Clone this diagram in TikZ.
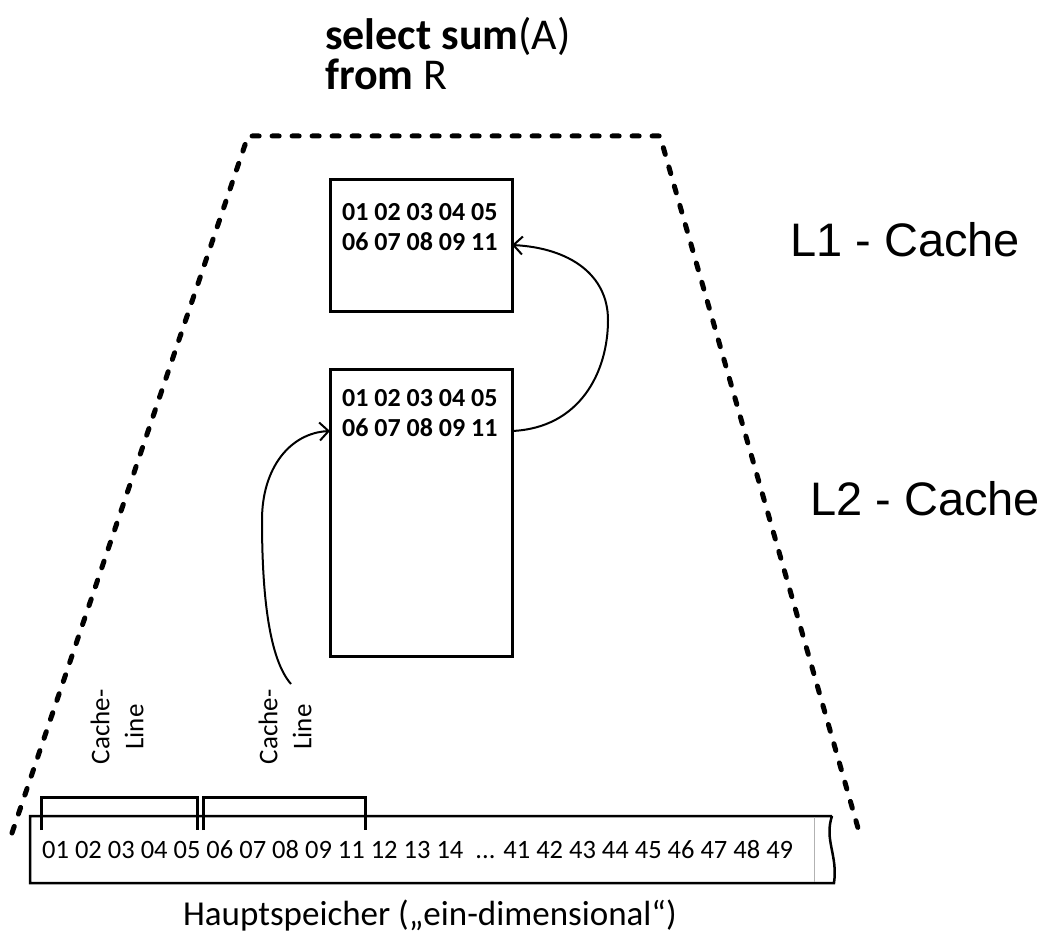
\documentclass[tikz,border=0pt]{standalone}
\usepackage{fontspec}
\setmainfont{Carlito}
\newfontfamily\helv{Liberation Sans}
\usetikzlibrary{arrows.meta}
\tikzset{
  dashline/.style={line width=5pt, line cap=round, dash pattern=on 7pt off 13pt},
  cachebox/.style={draw, line width=3pt},
  boxtext/.style={font=\fontsize{26}{30}\selectfont\bfseries, anchor=base west, inner sep=0pt},
  memtext/.style={font=\fontsize{26.5}{30}\selectfont, anchor=base west, inner sep=0pt},
  bracketline/.style={line width=3pt},
  arr/.style={line width=2pt, -{Straight Barb[length=9pt,width=18pt,line width=2pt]}},
  cllabel/.style={font=\fontsize{27}{34}\selectfont, align=center, rotate=90, inner sep=0pt},
  levellabel/.style={font=\helv\fontsize{47}{52}\selectfont, anchor=base west, inner sep=0pt},
  titletext/.style={font=\fontsize{44}{48}\selectfont, anchor=base west, inner sep=0pt},
}
\begin{document}
\begin{tikzpicture}[x=1pt,y=-1pt]
\useasboundingbox (0,0) rectangle (1045,933);
% title
\node[titletext] (t1) at (325,50) {\textbf{select sum}(A)};
\node[titletext] (t2) at (325,90) {\textbf{from} R};
% dashed trapezoid
\draw[dashline] (12,833) -- (248,136) -- (660,136) -- (858,828);
% L1 box
\draw[cachebox] (330,180) rectangle (512,312);
\node[boxtext] (l1a) at (342,221) {01 02 03 04 05};
\node[boxtext] (l1b) at (342,251) {06 07 08 09 11};
% L2 box
\draw[cachebox] (330,370) rectangle (512,656);
\node[boxtext] (l2a) at (342,407) {01 02 03 04 05};
\node[boxtext] (l2b) at (342,437) {06 07 08 09 11};
\coordinate (l1in) at (512,245);
\coordinate (l2out) at (512,431);
\coordinate (l2in) at (330,431);
% level labels
\node[levellabel] (lv1) at (790,257) {L1 - Cache};
\node[levellabel] (lv2) at (810,515) {L2 - Cache};
% memory
\draw[line width=2.5pt] (832,816) -- (30,816) -- (30,883) -- (834,883)
  .. controls (838,855) and (824,840) .. (832,816);
\draw[line width=0.6pt, gray!60] (814,817) -- (814,882);
\node[memtext] (mem) at (42,858) {01 02 03 04 05 06 07 08 09 11 12 13 14 \ ... 41 42 43 44 45 46 47 48 49};
\node[font=\fontsize{35}{40}\selectfont, anchor=base, inner sep=0pt] (hs) at (430,925) {Hauptspeicher („ein-dimensional“)};
% brackets
\draw[bracketline] (41,830) -- (41,797) -- (197,797) -- (197,830);
\draw[bracketline] (203,830) -- (203,797) -- (365,797) -- (365,830);
% cache line labels
\node[cllabel] (cl1) at (117,727) {Cache-\\Line};
\node[cllabel] (cl2) at (285,727) {Cache-\\Line};
\coordinate (c2top) at (291,684);
% arrows
\draw[arr] (l2out) .. controls (580,428) and (608,372) .. (608,320)
  .. controls (608,275) and (570,248) .. (l1in);
\draw[arr] (c2top) .. controls (270,660) and (262,600) .. (262,520)
  .. controls (262,468) and (290,433) .. (l2in);
\end{tikzpicture}
\end{document}
